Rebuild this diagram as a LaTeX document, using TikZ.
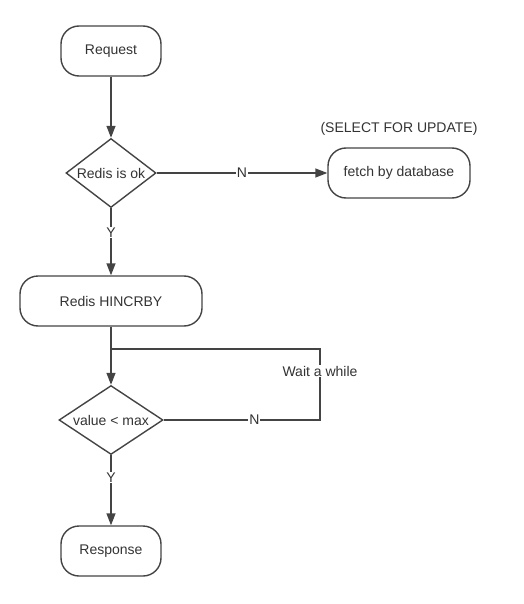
\documentclass[tikz,border=0pt]{standalone}
\usepackage{fontspec}
\setmainfont{Liberation Sans}
\usetikzlibrary{shapes.geometric,arrows.meta}
\definecolor{linegray}{HTML}{444444}
\definecolor{textgray}{HTML}{333333}
\begin{document}
\begin{tikzpicture}[x=1pt,y=-1pt,
  font=\fontsize{14}{16}\selectfont, text=textgray,
  term/.style={draw=linegray, line width=1.4pt, rounded corners=18pt, minimum height=50pt, inner sep=0pt},
  test/.style={draw=linegray, line width=1.4pt, diamond, inner sep=0pt, minimum height=69pt},
  flow/.style={draw=linegray, line width=1.4pt, -{Triangle[length=12pt,width=9pt]}},
  loop/.style={draw=linegray, line width=1.4pt},
  tag/.style={fill=white, inner sep=1pt}]
\useasboundingbox (0,0) rectangle (523,604);
\node[term, minimum width=100pt] (req) at (111,51) {Request};
\node[test, minimum width=90pt, aspect=1.3] (ok) at (111,173) {Redis is ok};
\node[term, minimum width=142pt] (db) at (399,173) {fetch by database};
\node (lock) at (399,129) {(SELECT FOR UPDATE)};
\node[term, minimum width=182pt] (incr) at (111,301) {Redis HINCRBY};
\node[test, minimum width=104pt, aspect=1.5] (cmp) at (111,420) {value < max};
\node[term, minimum width=100pt] (resp) at (111,551) {Response};
% loop back corners
\coordinate (M) at (111,349);
\coordinate (W) at (320,420);
\coordinate (T) at (320,349);
\draw [flow] (req) -- (ok);
\draw [flow] (ok) -- node[tag, pos=0.5]{N} (db);
\draw [flow] (ok) -- node[tag, pos=0.36]{Y} (incr);
\draw [flow] (incr) -- (cmp);
\draw [loop] (cmp) -- node[tag, pos=0.58]{N} (W) -- node[tag, pos=0.69]{Wait a while} (T) -- (M);
\draw [flow] (cmp) -- node[tag, pos=0.32]{Y} (resp);
\end{tikzpicture}
\end{document}
